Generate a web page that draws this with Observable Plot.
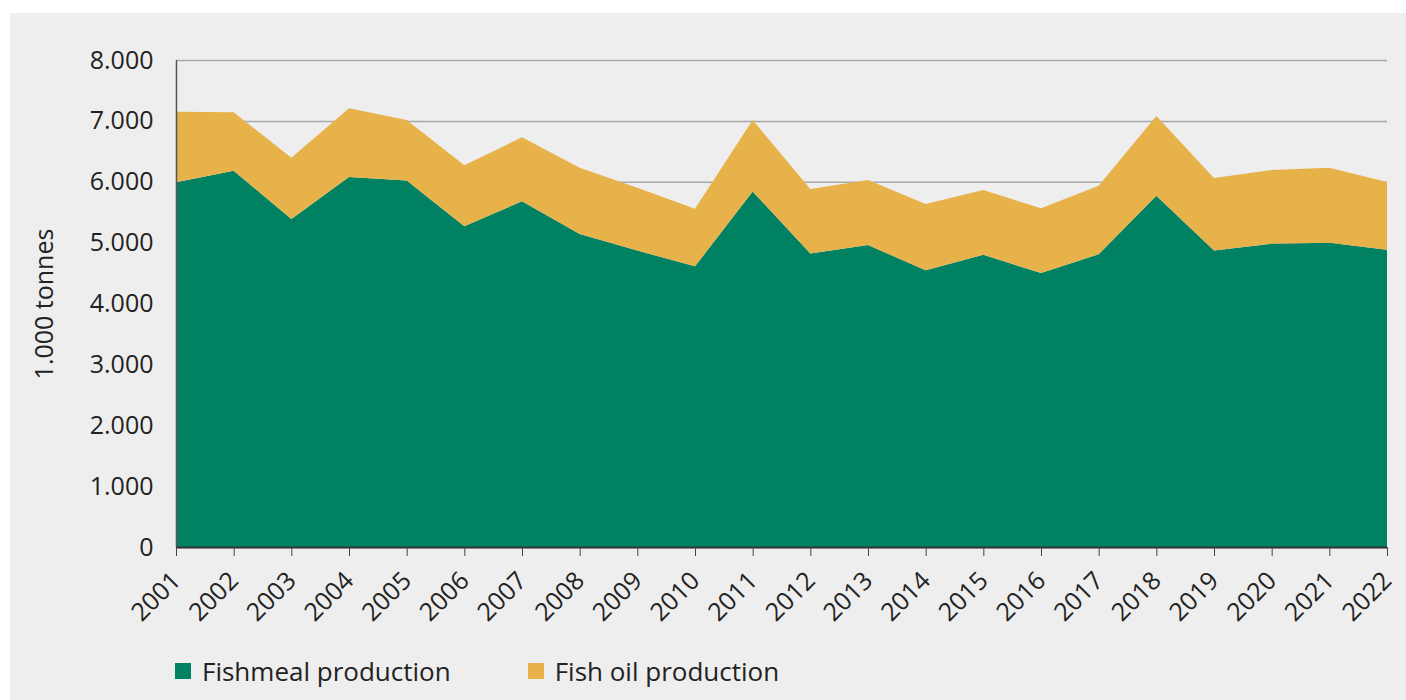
<!DOCTYPE html>
<html>
<head>
<meta charset="utf-8">
<script src="https://cdn.jsdelivr.net/npm/d3@7"></script>
<script src="https://cdn.jsdelivr.net/npm/@observablehq/plot@0.6"></script>
<style>
  html, body { margin: 0; padding: 0; background: #ffffff; }
  #panel { position: absolute; left: 10px; top: 13px; width: 1396px; height: 687px; background: #eeeeee; font-family: "Open Sans", sans-serif; color: #222; }
  #chart { position: absolute; left: 0; top: 0; }
  #legend { position: absolute; left: 165px; top: 640px; display: flex; align-items: center; font-size: 26px; color: #222; }
  .item { display: flex; align-items: center; margin-right: 77px; }
  .sw { width: 16px; height: 16px; margin-right: 11px; }
</style>
</head>
<body>
<div id="panel">
  <div id="chart"></div>
  <div id="legend"></div>
</div>
<script>
const years = [2001,2002,2003,2004,2005,2006,2007,2008,2009,2010,2011,2012,2013,2014,2015,2016,2017,2018,2019,2020,2021,2022];
const fishmeal = [5990,6180,5390,6080,6020,5270,5680,5140,4870,4610,5840,4820,4960,4545,4800,4500,4810,5770,4870,4980,5000,4885];
const totals   = [7150,7140,6395,7206,7015,6270,6730,6230,5900,5558,7015,5881,6029,5634,5864,5563,5935,7080,6062,6193,6231,5996];
const fishoil = totals.map((t, i) => t - fishmeal[i]);
const seriesNames = ["Fishmeal production", "Fish oil production"];
const seriesColors = ["#008262", "#e8b24b"];
const yTicks = [0,1000,2000,3000,4000,5000,6000,7000,8000];

const rows = [];
years.forEach((y, i) => {
  rows.push({year: y, series: seriesNames[0], value: fishmeal[i]});
  rows.push({year: y, series: seriesNames[1], value: fishoil[i]});
});

const fmt = d => d3.format(",")(d).replace(/,/g, ".");

const chart = Plot.plot({
  width: 1396,
  height: 640,
  marginLeft: 166,
  marginRight: 19,
  marginTop: 47,
  marginBottom: 106,
  style: {background: "transparent", fontFamily: "Open Sans, sans-serif", fontSize: "25px", color: "#222"},
  x: {type: "linear", domain: [2001, 2022]},
  y: {domain: [0, 8000]},
  color: {domain: seriesNames, range: seriesColors},
  marks: [
    Plot.gridY(yTicks, {stroke: "#a8a8a8", strokeOpacity: 1, strokeWidth: 1.5}),
    Plot.areaY(rows, {x: "year", y: "value", fill: "series", order: seriesNames}),
    Plot.ruleX([2001], {y1: 0, y2: 8000, stroke: "#555", strokeWidth: 1.5}),
    Plot.ruleY([0], {stroke: "#333", strokeWidth: 2}),
    Plot.axisY({ticks: yTicks, tickFormat: fmt, tickSize: 0, tickPadding: 23, label: "1.000 tonnes", labelAnchor: "center", labelArrow: "none", labelOffset: 141, fontSize: 25}),
    Plot.axisX({ticks: years, tickFormat: d => String(d), tickSize: 9, tickRotate: -45, tickPadding: 20, label: null, stroke: "#444", fontSize: 25})
  ]
});
document.getElementById("chart").appendChild(chart);

const legend = document.getElementById("legend");
seriesNames.forEach((name, i) => {
  const item = document.createElement("div");
  item.className = "item";
  const sw = document.createElement("div");
  sw.className = "sw";
  sw.style.background = seriesColors[i];
  const t = document.createElement("span");
  t.textContent = name;
  item.appendChild(sw);
  item.appendChild(t);
  legend.appendChild(item);
});
</script>
</body>
</html>
